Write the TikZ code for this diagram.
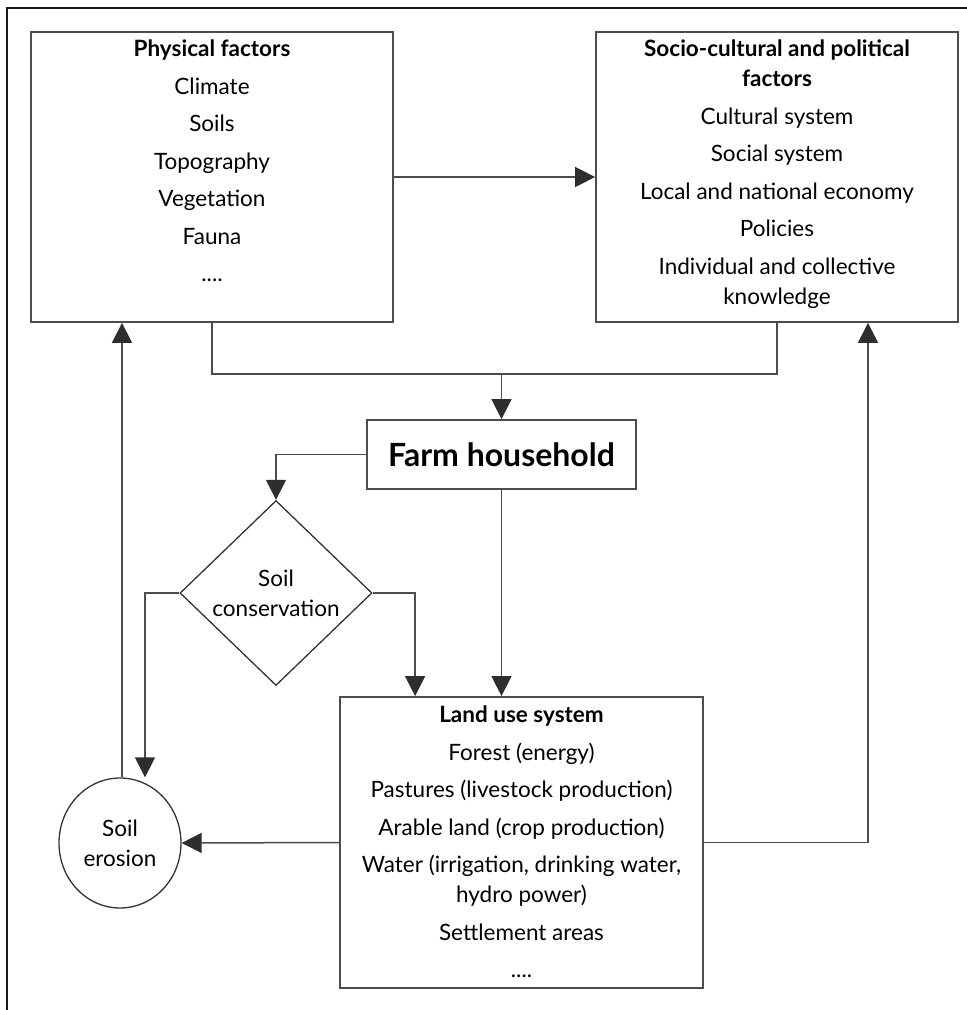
\documentclass[tikz,border=0pt]{standalone}
\usepackage{fontspec}
\setmainfont{Lato}
\usetikzlibrary{shapes.geometric,arrows.meta,calc}
\begin{document}
\begin{tikzpicture}[x=1pt,y=-1pt,
  boxst/.style={draw=black!70,line width=1.8pt,rectangle,inner sep=0pt},
  shp/.style={draw=black!80,line width=1.3pt,inner sep=0pt},
  txt/.style={align=center,inner sep=0pt,font=\fontsize{22.5}{37.5}\selectfont},
  conn/.style={draw=black!70,line width=1.5pt},
  arr/.style={conn,-{Triangle[length=20pt,width=20pt,color=black!82,fill=black!82]}},
  frame/.style={draw=black!90,line width=1.8pt}]
\useasboundingbox (0,0) rectangle (967,1010);
% outer frame
\draw[frame] (7,1010) -- (7,8) -- (967,8);
% boxes
\node[boxst,minimum width=362pt,minimum height=290pt] (phys) at (212,177) {};
\node[boxst,minimum width=362pt,minimum height=290pt] (soc) at (777,177) {};
\node[boxst,minimum width=269pt,minimum height=69pt,font=\fontsize{32}{36}\selectfont\bfseries] (farm) at (501.5,454.5) {Farm household};
\node[boxst,minimum width=363pt,minimum height=291pt] (land) at (521.5,842.5) {};
\node[shp,diamond,minimum width=192pt,minimum height=185pt,txt] (dia) at (276,593) {Soil\\[-7.5pt]conservation};
\node[shp,ellipse,minimum width=122pt,minimum height=130pt,txt] (ero) at (120,843) {Soil\\[-7.5pt]erosion};
% box texts
\node[txt,anchor=north] (physt) at (212,40) {\textbf{Physical factors}\\Climate\\Soils\\Topography\\Vegetation\\Fauna\\....};
\node[txt,anchor=north] (soct) at (777,40) {\textbf{Socio-cultural and political}\\[-7.5pt]\textbf{factors}\\Cultural system\\Social system\\Local and national economy\\Policies\\Individual and collective\\[-7.5pt]knowledge};
\node[txt,anchor=north] (landt) at (521.5,706) {\textbf{Land use system}\\Forest (energy)\\Pastures (livestock production)\\Arable land (crop production)\\Water (irrigation, drinking water,\\[-7.5pt]hydro power)\\Settlement areas\\....};
% connectors
\coordinate (j) at (501.5,374);
\draw[arr] (phys.east) -- (soc.west);
\draw[conn] (phys.south) |- (j) -| (soc.south);
\draw[arr] (j) -- (farm.north);
\draw[arr] (farm.west) -| (dia.north);
\draw[arr] (dia.east) -| ($(land.north west)+(76,0)$);
\draw[arr] (farm.south) -- (farm.south |- land.north);
\draw[arr] (dia.west) -| ([xshift=25pt]ero.north);
\draw[arr] ([xshift=2pt]ero.north) -- ([xshift=2pt]ero.north |- phys.south);
\draw[arr] (land.west) -- (ero.east);
\draw[arr] (land.east) -| ([xshift=91pt]soc.south);
\end{tikzpicture}
\end{document}
